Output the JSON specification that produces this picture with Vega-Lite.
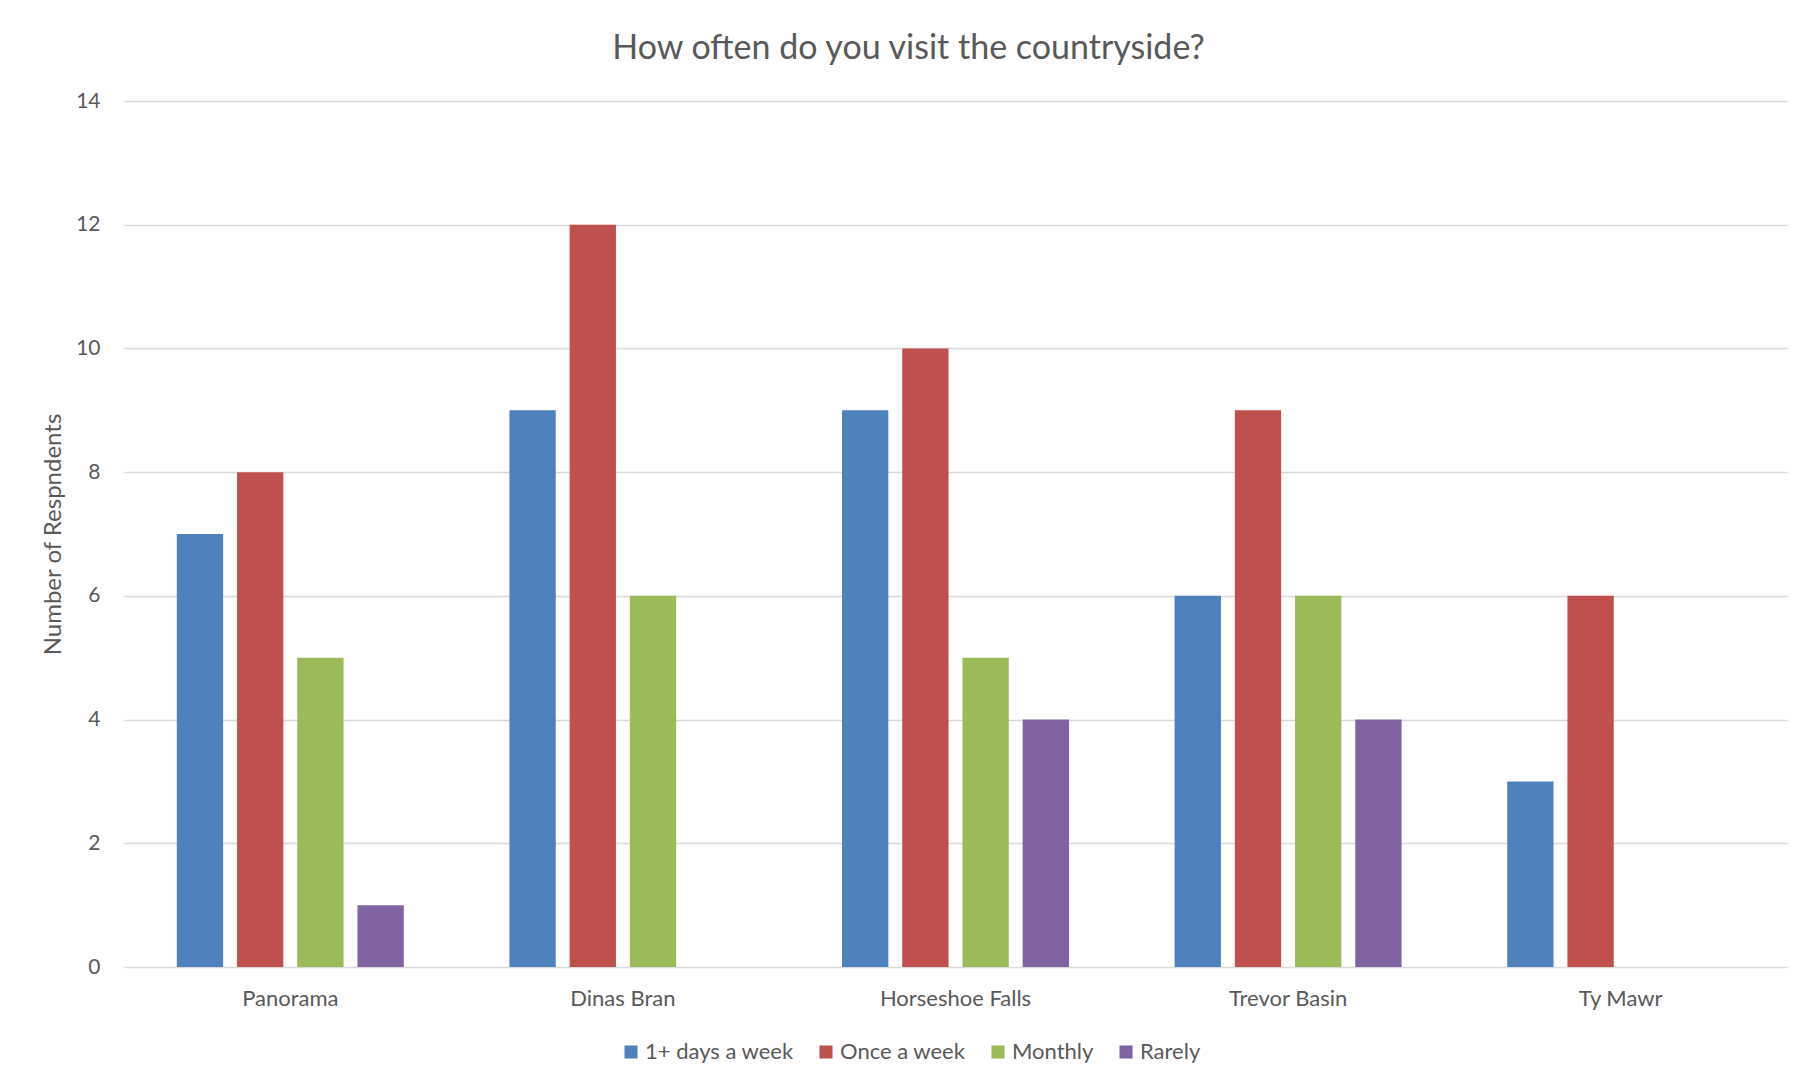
{
  "$schema": "https://vega.github.io/schema/vega-lite/v6.json",
  "autosize": {"type": "none"},
  "width": 1663,
  "height": 866,
  "padding": {"left": 124, "top": 101, "right": 29, "bottom": 125},
  "background": "white",
  "title": {
    "text": "How often do you visit the countryside?",
    "fontSize": 34,
    "font": "Lato",
    "fontWeight": "normal",
    "color": "#595959",
    "anchor": "middle",
    "dx": -47,
    "offset": 24
  },
  "data": {
    "values": [
      {"site": "Panorama", "freq": "1+ days a week", "n": 7},
      {"site": "Panorama", "freq": "Once a week", "n": 8},
      {"site": "Panorama", "freq": "Monthly", "n": 5},
      {"site": "Panorama", "freq": "Rarely", "n": 1},
      {"site": "Dinas Bran", "freq": "1+ days a week", "n": 9},
      {"site": "Dinas Bran", "freq": "Once a week", "n": 12},
      {"site": "Dinas Bran", "freq": "Monthly", "n": 6},
      {"site": "Horseshoe Falls", "freq": "1+ days a week", "n": 9},
      {"site": "Horseshoe Falls", "freq": "Once a week", "n": 10},
      {"site": "Horseshoe Falls", "freq": "Monthly", "n": 5},
      {"site": "Horseshoe Falls", "freq": "Rarely", "n": 4},
      {"site": "Trevor Basin", "freq": "1+ days a week", "n": 6},
      {"site": "Trevor Basin", "freq": "Once a week", "n": 9},
      {"site": "Trevor Basin", "freq": "Monthly", "n": 6},
      {"site": "Trevor Basin", "freq": "Rarely", "n": 4},
      {"site": "Ty Mawr", "freq": "1+ days a week", "n": 3},
      {"site": "Ty Mawr", "freq": "Once a week", "n": 6}
    ]
  },
  "mark": {"type": "bar"},
  "encoding": {
    "x": {
      "field": "site",
      "type": "nominal",
      "sort": ["Panorama", "Dinas Bran", "Horseshoe Falls", "Trevor Basin", "Ty Mawr"],
      "scale": {"paddingInner": 0, "paddingOuter": 0},
      "axis": {
        "title": null,
        "labelAngle": 0,
        "labelFont": "Lato",
        "labelFontSize": 22,
        "labelColor": "#595959",
        "labelPadding": 21,
        "ticks": false,
        "domain": false,
        "grid": false
      }
    },
    "xOffset": {
      "field": "freq",
      "type": "nominal",
      "sort": ["1+ days a week", "Once a week", "Monthly", "Rarely"],
      "scale": {"paddingInner": 0.2308, "paddingOuter": 0.877}
    },
    "y": {
      "field": "n",
      "type": "quantitative",
      "scale": {"domain": [0, 14], "nice": false},
      "axis": {
        "title": "Number of Respndents",
        "titleFont": "Lato",
        "titleFontSize": 24,
        "titleFontWeight": "normal",
        "titleColor": "#595959",
        "titlePadding": 10,
        "values": [0, 2, 4, 6, 8, 10, 12, 14],
        "labelFont": "Lato",
        "labelFontSize": 21,
        "labelColor": "#595959",
        "labelPadding": 24,
        "ticks": false,
        "domain": false,
        "gridColor": "#D9D9D9",
        "gridWidth": 1.5
      }
    },
    "color": {
      "field": "freq",
      "type": "nominal",
      "sort": ["1+ days a week", "Once a week", "Monthly", "Rarely"],
      "scale": {
        "domain": ["1+ days a week", "Once a week", "Monthly", "Rarely"],
        "range": ["#4F81BD", "#C0504D", "#9BBB59", "#8064A2"]
      },
      "legend": {
        "title": null,
        "orient": "none",
        "legendX": 496,
        "legendY": 940,
        "direction": "horizontal",
        "symbolType": "square",
        "symbolSize": 170,
        "symbolStrokeWidth": 0,
        "labelFont": "Lato",
        "labelFontSize": 22,
        "labelColor": "#595959",
        "labelOffset": 3,
        "columnPadding": 21
      }
    }
  },
  "config": {
    "view": {"stroke": null}
  }
}
